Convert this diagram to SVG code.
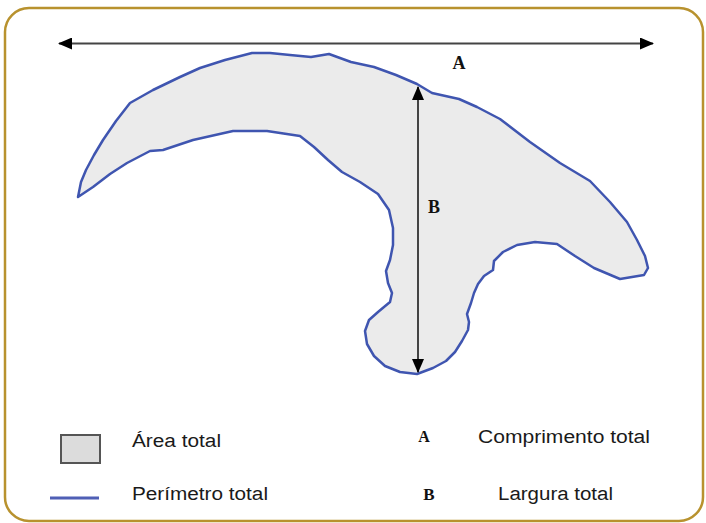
<svg xmlns="http://www.w3.org/2000/svg" width="706" height="523" viewBox="0 0 706 523">
<style>
.lab{font-family:"Liberation Serif","Times New Roman",serif;font-weight:bold;fill:#111}
.leg{font-family:"Liberation Sans",Arial,sans-serif;font-size:18px;fill:#1a1a1a}
.dim{stroke:#444;stroke-width:2;fill:none}
</style>
<defs>
<marker id="ah" viewBox="0 0 14 12" refX="13" refY="6" markerWidth="14" markerHeight="12" markerUnits="userSpaceOnUse" orient="auto-start-reverse">
<path d="M0,0 L14,6 L0,12 Z" fill="#000"/>
</marker>
</defs>
<rect x="5" y="8" width="698" height="513" rx="24" fill="#fff" stroke="#B8922E" stroke-width="2.5"/>
<g id="shape">
<path d="M78,197 L81,182 L86,170 L94,155 L103,140 L116,121 L130,103 L153,90 L180,77 L200,68 L225,60 L252,53 L270,53 L290,55 L311,57 L329,54 L351,62 L374,67 L396,75 L417,84 L432,93 L459,99 L477,107 L500,119 L530,142 L560,163 L590,181 L610,202 L627,222 L637,240 L645,256 L648,268 L644,275 L620,279 L594,268 L575,256 L557,244 L535,242 L517,245 L503,252 L494,261 L493,270 L484,276 L478,284 L474,293 L471,303 L467,314 L469,322 L468,330 L462,341 L455,352 L446,361 L433,368 L417,374 L400,372 L385,366 L374,356 L367,344 L365,331 L369,320 L378,312 L390,302 L392,293 L388,283 L386,271 L390,260 L393,245 L393,228 L389,210 L378,194 L360,182 L342,172 L328,160 L314,147 L300,136 L267,131 L233,131 L193,140 L163,150 L150,151 L127,163 L110,174 L93,187 Z" fill="#EBEBEB" stroke="#3F55B0" stroke-width="2.5" stroke-linejoin="round"/>
</g>
<g id="connectors">
<line class="dim" x1="59" y1="43.5" x2="653" y2="43.5" marker-start="url(#ah)" marker-end="url(#ah)"/>
<line class="dim" x1="418" y1="87" x2="418" y2="372" marker-start="url(#ah)" marker-end="url(#ah)"/>
</g>
<g id="labelA"><text class="lab" x="459" y="69" font-size="18" text-anchor="middle">A</text></g>
<g id="labelB"><text class="lab" x="434" y="213" font-size="18" text-anchor="middle">B</text></g>
<g id="legend-area">
<rect x="61" y="435" width="39" height="28" fill="#DCDCDC" stroke="#555" stroke-width="2"/>
<text class="leg" x="132" y="447" textLength="89" lengthAdjust="spacingAndGlyphs">Área total</text>
</g>
<g id="legend-perimeter">
<line x1="50" y1="498" x2="99" y2="498" stroke="#4F5FB5" stroke-width="3"/>
<text class="leg" x="132" y="500" textLength="136" lengthAdjust="spacingAndGlyphs">Perímetro total</text>
</g>
<g id="legend-A">
<text class="lab" x="424" y="442" font-size="16" text-anchor="middle">A</text>
<text class="leg" x="478" y="443" textLength="172" lengthAdjust="spacingAndGlyphs">Comprimento total</text>
</g>
<g id="legend-B">
<text class="lab" x="429" y="500" font-size="17" text-anchor="middle">B</text>
<text class="leg" x="498" y="500" textLength="115" lengthAdjust="spacingAndGlyphs">Largura total</text>
</g>
</svg>
